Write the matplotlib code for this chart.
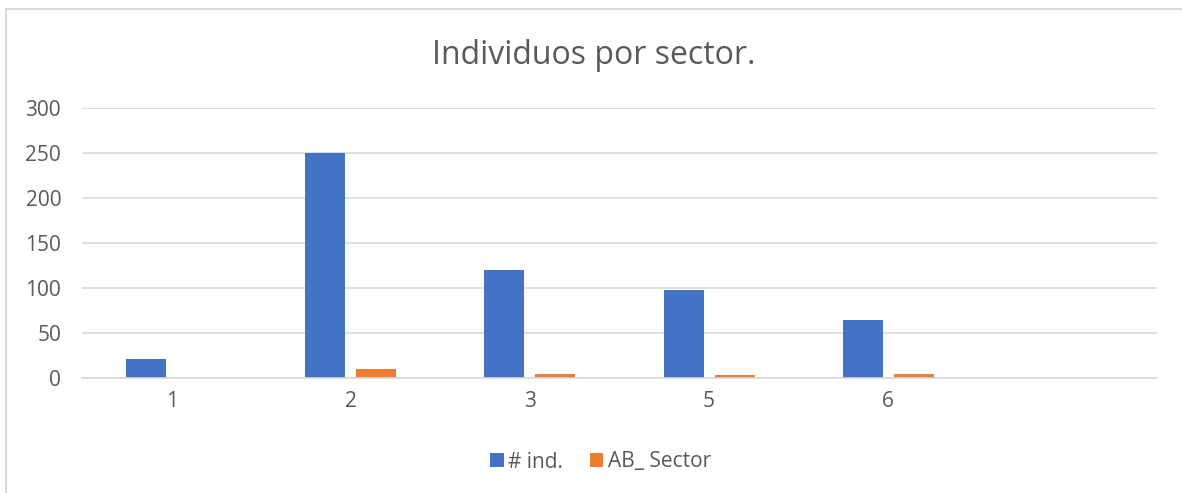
import matplotlib.pyplot as plt
import numpy as np
from matplotlib.lines import Line2D

categories = ['1', '2', '3', '5', '6', '']
n_ind = [21, 250, 120, 97, 64, 0]
ab_sector = [0, 9, 4, 3, 4, 0]

plt.rcParams['font.family'] = ['Open Sans', 'DejaVu Sans']
text_color = '#595959'

fig = plt.figure(figsize=(11.82, 4.93), dpi=100)
ax = fig.add_axes([82 / 1182, 1 - 377.5 / 493, (1157 - 82) / 1182, (377.5 - 108) / 493])

x = np.arange(len(categories))
width = 0.223
off = 0.142
b1 = ax.bar(x - off, n_ind, width, color='#4472C4', label='# ind.')
b2 = ax.bar(x + off, ab_sector, width, color='#ED7D31', label='AB_ Sector')

ax.set_xlim(-0.5, len(categories) - 0.5)
ax.set_ylim(0, 300)
ax.set_yticks(range(0, 301, 50))
ax.set_xticks(x)
ax.set_xticklabels(categories)
ax.yaxis.grid(True, color='#D9D9D9', linewidth=1.2)
ax.set_axisbelow(True)
for s in ['top', 'right', 'left']:
    ax.spines[s].set_visible(False)
ax.spines['bottom'].set_color('#D9D9D9')
ax.spines['bottom'].set_linewidth(1.2)
ax.tick_params(axis='both', length=0, labelsize=15, colors=text_color)
ax.tick_params(axis='x', pad=10)
ax.tick_params(axis='y', pad=15)

fig.text(0.502, 1 - 56 / 493, 'Individuos por sector.', ha='center', va='center',
         fontsize=23, color=text_color)

fig.legend(handles=[b1, b2], loc='center', bbox_to_anchor=(0.508, 1 - 462 / 493),
           ncol=2, frameon=False, fontsize=15, labelcolor=text_color,
           handlelength=0.65, handleheight=0.65, handletextpad=0.2, columnspacing=1.3)

# chart area border (left and top edges only visible)
fig.add_artist(Line2D([6 / 1182, 6 / 1182], [0, 1 - 9 / 493], transform=fig.transFigure,
                      color='#D9D9D9', linewidth=1.5))
fig.add_artist(Line2D([6 / 1182, 1], [1 - 9 / 493, 1 - 9 / 493], transform=fig.transFigure,
                      color='#D9D9D9', linewidth=1.5))

fig.savefig('out.png', dpi=100)
